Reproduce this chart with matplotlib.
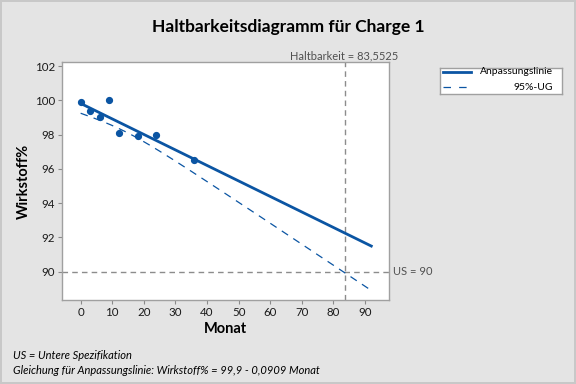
import numpy as np
import matplotlib
matplotlib.use('Agg')
import matplotlib.pyplot as plt
from matplotlib.lines import Line2D

plt.rcParams['font.family'] = ['Lato', 'DejaVu Sans']

# Data
monat = np.array([0, 3, 6, 9, 12, 18, 24, 36])
wirkstoff = np.array([99.9, 99.4, 99.0, 100.0, 98.1, 97.9, 98.0, 96.5])

us = 90
haltbarkeit = 83.5525
x_end = 92                 # lines drawn to ~110% of shelf life
t_95 = 1.943180            # one-sided t, df = 6

x_ticks = [0, 10, 20, 30, 40, 50, 60, 70, 80, 90]
y_ticks = [90, 92, 94, 96, 98, 100, 102]

blue = '#0b55a3'
gray_ref = '#8c8c8c'
bg = '#e4e4e4'

# Regression + lower 95% bound
slope, intercept = np.polyfit(monat, wirkstoff, 1)
n = len(monat)
resid = wirkstoff - (intercept + slope * monat)
s = np.sqrt(np.sum(resid ** 2) / (n - 2))
sxx = np.sum((monat - monat.mean()) ** 2)
xs = np.linspace(0, x_end, 200)
fit = intercept + slope * xs
lower = fit - t_95 * s * np.sqrt(1 / n + (xs - monat.mean()) ** 2 / sxx)

fig = plt.figure(figsize=(5.76, 3.84), dpi=100, facecolor=bg)
ax = fig.add_axes([62 / 576, 1 - 300 / 384, 327.3 / 576, 237.7 / 384])
ax.set_facecolor('white')

ax.axhline(us, color=gray_ref, lw=1, dashes=(4, 3), zorder=1)
ax.axvline(haltbarkeit, color=gray_ref, lw=1, dashes=(4, 3), zorder=1)

ax.plot(xs, fit, color=blue, lw=2, zorder=3)
ax.plot(xs, lower, color=blue, lw=0.9, dashes=(6, 5), zorder=3)
ax.plot(monat, wirkstoff, 'o', color=blue, markersize=4.2, zorder=4)

ax.set_xlim(-5.9, 97.7)
ax.set_ylim(88.35, 102.22)
ax.set_xticks(x_ticks)
ax.set_yticks(y_ticks)
ax.tick_params(direction='out', length=3, width=0.8, color='#8a8a8a',
               labelsize=8.3, labelcolor='#1a1a1a', pad=2)
for sp in ax.spines.values():
    sp.set_color('#a0a0a0')
    sp.set_linewidth(1)

ax.set_xlabel('Monat', fontsize=10.5, fontweight='bold', labelpad=3)
ax.set_ylabel('Wirkstoff%', fontsize=10.5, fontweight='bold', labelpad=3)

fig.text(0.5, 1 - 27 / 384, 'Haltbarkeitsdiagramm für Charge 1',
         ha='center', va='center', fontsize=12.5, fontweight='bold')

ax.annotate('Haltbarkeit = 83,5525', xy=(haltbarkeit, 1), xycoords=('data', 'axes fraction'),
            xytext=(0, 0.5), textcoords='offset points', ha='center', va='bottom',
            fontsize=8, color='#505050')
ax.annotate('US = 90', xy=(1, us), xycoords=('axes fraction', 'data'),
            xytext=(3, 0), textcoords='offset points', ha='left', va='center',
            fontsize=8, color='#505050')

# Legend box
lax = fig.add_axes([439.5 / 576, 1 - 94 / 384, 122 / 576, 26.5 / 384])
lax.set_xlim(0, 122)
lax.set_ylim(26.5, 0)
lax.set_xticks([])
lax.set_yticks([])
lax.set_facecolor('white')
for sp in lax.spines.values():
    sp.set_color('#a0a0a0')
    sp.set_linewidth(1)
lax.add_line(Line2D([3, 31], [4, 4], color=blue, lw=2))
lax.add_line(Line2D([3, 28], [19.5, 19.5], color=blue, lw=0.9, dashes=(6, 6.5)))
lax.text(113, 4, 'Anpassungslinie', ha='right', va='center', fontsize=7.5)
lax.text(113, 19.5, '95%-UG', ha='right', va='center', fontsize=7.5)

fig.text(13 / 576, 1 - 355.5 / 384, 'US = Untere Spezifikation',
         ha='left', va='center', fontsize=8, style='italic')
fig.text(13 / 576, 1 - 370.5 / 384,
         'Gleichung für Anpassungslinie: Wirkstoff% = 99,9 - 0,0909 Monat',
         ha='left', va='center', fontsize=8, style='italic')

fig.patch.set_edgecolor('#c8c8c8')
fig.patch.set_linewidth(1.5)

fig.savefig('out.png', dpi=100, facecolor=fig.get_facecolor(), edgecolor=fig.get_edgecolor())
